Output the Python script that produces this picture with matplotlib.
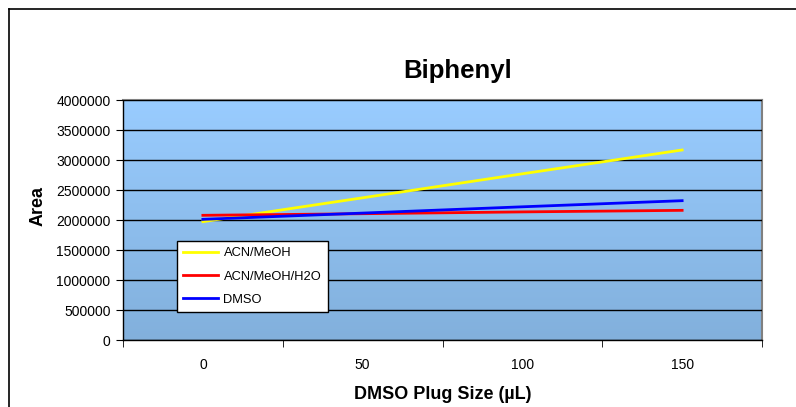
import matplotlib
matplotlib.use("Agg")
import matplotlib.pyplot as plt
import numpy as np
from matplotlib.lines import Line2D
from matplotlib.colors import LinearSegmentedColormap

plt.rcParams['font.family'] = ['Liberation Sans', 'DejaVu Sans']

categories = ["0", "50", "100", "150"]
acn_meoh = [1972000, 2370000, 2770000, 3167000]
acn_meoh_h2o = [2078000, 2105000, 2135000, 2161000]
dmso = [2011000, 2115000, 2220000, 2322000]
series_names = ["ACN/MeOH", "ACN/MeOH/H2O", "DMSO"]
series_colors = ["#FFFF00", "#FF0000", "#0000FF"]
yticks = [0, 500000, 1000000, 1500000, 2000000, 2500000, 3000000, 3500000, 4000000]

W, H = 796, 407
fig = plt.figure(figsize=(W/100, H/100), dpi=100)
fig.patch.set_facecolor("white")

# figure border (top and left visible)
fig.add_artist(Line2D([9/W, 1.0], [1-9/H, 1-9/H], color="black", lw=1.2, transform=fig.transFigure))
fig.add_artist(Line2D([9/W, 9/W], [0, 1-9/H], color="black", lw=1.2, transform=fig.transFigure))

left, right, top, bottom = 123, 762, 100, 340
ax = fig.add_axes([left/W, 1-bottom/H, (right-left)/W, (bottom-top)/H])

x = np.arange(len(categories))
ax.set_xlim(-0.5, len(categories)-0.5)
ax.set_ylim(0, 4000000)

# gradient background
cmap = LinearSegmentedColormap.from_list("bg", ["#82B0DC", "#99CCFF"])
grad = np.linspace(0, 1, 256).reshape(-1, 1)
ax.imshow(grad, cmap=cmap, aspect="auto", origin="lower",
          extent=[0, 1, 0, 1], transform=ax.transAxes, zorder=0)

ax.set_yticks(yticks)
ax.set_yticklabels([str(v) for v in yticks], fontsize=10)
ax.yaxis.grid(True, color="black", lw=1.0, zorder=1)
ax.set_axisbelow(False)

for vals, name, c in zip([acn_meoh, acn_meoh_h2o, dmso], series_names, series_colors):
    ax.plot(x, vals, color=c, lw=2.0, label=name, zorder=3)

ax.set_xticks(x)
ax.set_xticklabels(categories, fontsize=10)
ax.set_xticks(np.arange(-0.5, len(categories)), minor=True)
ax.tick_params(axis="x", which="major", length=0, pad=13)
ax.tick_params(axis="x", which="minor", length=5, direction="out", color="black")
ax.tick_params(axis="y", length=5, direction="out", pad=4)

for s in ["top", "right"]:
    ax.spines[s].set_color("#808080")
    ax.spines[s].set_linewidth(1.5)
for s in ["left", "bottom"]:
    ax.spines[s].set_color("black")
    ax.spines[s].set_linewidth(1.0)

fig.text(458/W, 1-71/H, "Biphenyl", fontsize=18.5, fontweight="bold", ha="center", va="center")
ax.set_xlabel("DMSO Plug Size (\u00b5L)", fontsize=13, fontweight="bold", labelpad=10)
ax.set_ylabel("Area", fontsize=13, fontweight="bold")
ax.yaxis.set_label_coords((38-left)/(right-left), (bottom-206)/(bottom-top))
ax.yaxis.label.set_va("center")

leg = ax.legend(loc="upper left", bbox_to_anchor=(0.0845, 0.4125), borderaxespad=0,
                fontsize=9.3, frameon=True, fancybox=False, framealpha=1,
                edgecolor="black", handlelength=2.7, labelspacing=0.85,
                borderpad=0.5, handletextpad=0.4)
leg.get_frame().set_linewidth(1.0)

fig.savefig("out.png", dpi=100)
